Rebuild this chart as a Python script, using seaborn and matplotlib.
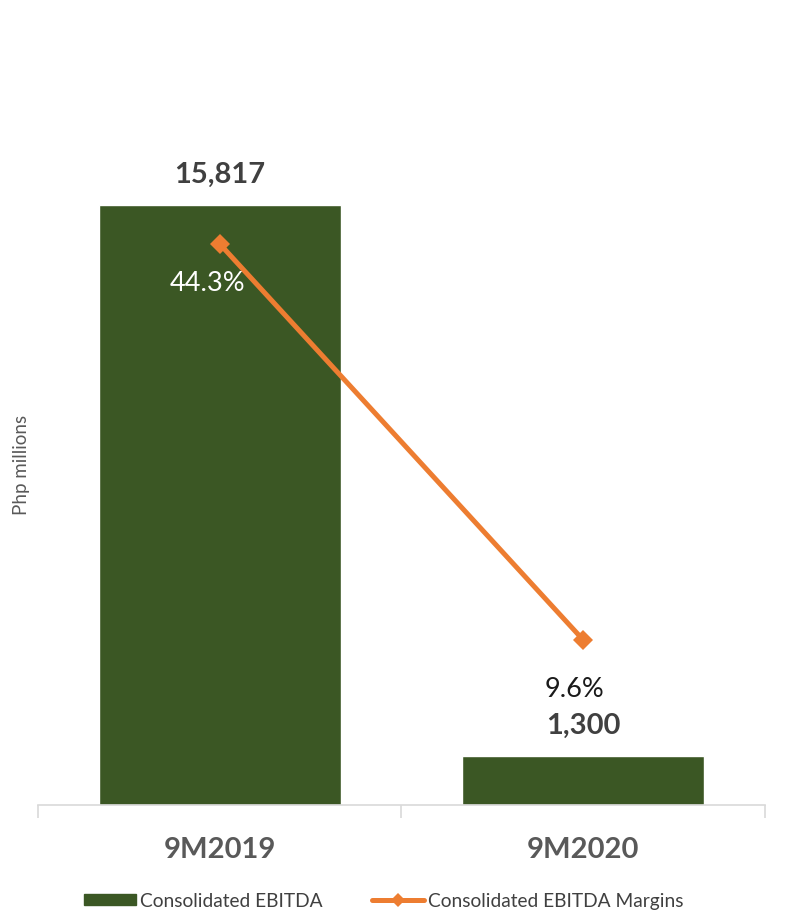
import matplotlib
matplotlib.use("Agg")
import matplotlib.pyplot as plt
from matplotlib.lines import Line2D
from matplotlib.patches import Patch
import seaborn as sns
import pandas as pd

# Data
periods = ["9M2019", "9M2020"]
ebitda = [15817, 1300]          # Php millions
margins = [44.3, 9.6]           # percent

bar_color = "#3B5724"
line_color = "#ED7D31"

sns.set_theme(style="white")
plt.rcParams["font.family"] = ["Lato", "DejaVu Sans"]

df = pd.DataFrame({"period": periods, "ebitda": ebitda, "margin": margins})

fig = plt.figure(figsize=(8.05, 9.2), dpi=100)
ax = fig.add_axes([0.0472, 0.1239, 0.9031, 0.7424])

sns.barplot(data=df, x="period", y="ebitda", color=bar_color, width=0.666,
            saturation=1, ax=ax)
ax.set_xlim(-0.5, 1.5)
ax.set_ylim(0, 18000)

# Bar value labels
for i, v in enumerate(ebitda):
    ax.annotate(f"{v:,}", (i, v), xytext=(0, 13), textcoords="offset points",
                ha="center", va="bottom", fontsize=21, fontweight="bold",
                color="#404040")

ax.set_xlabel("")
ax.set_ylabel("Php millions", fontsize=13.5, color="#595959", labelpad=6)
ax.set_yticks([])
ax.tick_params(axis="x", which="major", bottom=False, length=0, labelsize=21,
               pad=22, labelcolor="#595959")
for lbl in ax.get_xticklabels():
    lbl.set_fontweight("bold")
ax.set_xticks([-0.5, 0.5, 1.5], minor=True)
ax.tick_params(axis="x", which="minor", bottom=True, length=9, width=1.2,
               color="#D9D9D9", direction="out")
for side in ["top", "left", "right"]:
    ax.spines[side].set_visible(False)
ax.spines["bottom"].set_color("#D9D9D9")
ax.spines["bottom"].set_linewidth(1.2)

# Margin line on secondary axis
ax2 = ax.twinx()
sns.lineplot(data=df, x="period", y="margin", ax=ax2, color=line_color,
             linewidth=3.6, marker="D", markersize=10, markeredgewidth=0,
             sort=False)
ax2.set_ylim(-4.86, 54.98)
ax2.set_yticks([])
ax2.set_ylabel("")
for side in ["top", "left", "right", "bottom"]:
    ax2.spines[side].set_visible(False)

pct_offsets = [(-9, -28), (-6, -35)]
pct_colors = ["white", "#1A1A1A"]
for i, (m, off, c) in enumerate(zip(margins, pct_offsets, pct_colors)):
    ax2.annotate(f"{m}%", (i, m), xytext=off, textcoords="offset points",
                 ha="center", va="center", fontsize=19.5, color=c)

handles = [
    Patch(facecolor=bar_color, edgecolor=bar_color, label="Consolidated EBITDA"),
    Line2D([0], [0], color=line_color, linewidth=3.6, marker="D",
           markersize=7, markeredgewidth=0, label="Consolidated EBITDA Margins"),
]
fig.legend(handles=handles, loc="lower center", bbox_to_anchor=(0.477, -0.008),
           ncol=2, frameon=False, fontsize=13.8, handlelength=2.7,
           handleheight=0.5, columnspacing=2.6, handletextpad=0.2,
           labelcolor="#404040")

fig.savefig("out.png", dpi=100)
